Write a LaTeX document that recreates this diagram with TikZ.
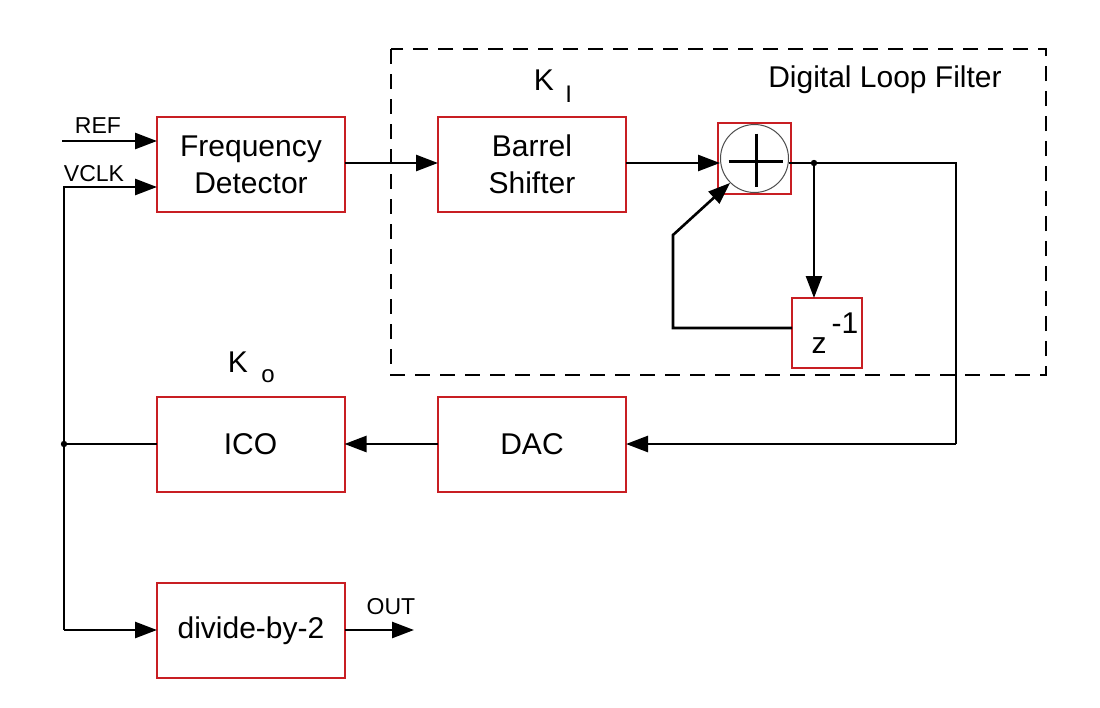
\documentclass[tikz,border=0pt]{standalone}
\usepackage{fontspec}
\setmainfont{Liberation Sans}
\usepackage{tikz}
\usetikzlibrary{arrows.meta,calc,positioning}
\definecolor{boxred}{RGB}{200,30,35}

\begin{document}
\begin{tikzpicture}[x=0.5pt,y=-0.5pt,
    blocco/.style={draw=boxred, line width=1pt, minimum width=94pt, minimum height=47.5pt,
        inner sep=0pt, outer sep=0pt, align=center, font=\fontsize{15}{18.5}\selectfont},
    filo/.style={line width=1.3pt, black},
    freccia/.style={filo, -{Triangle[length=11pt,width=8pt]}},
    etich/.style={font=\fontsize{11.5}{13}\selectfont, inner sep=0pt}]
    \useasboundingbox[fill=white] (0,0) rectangle (1100,708);

    % Blocchi principali
    \node[blocco] (fd) at (251,164.5) {Frequency\\Detector};
    \node[blocco] (bs) at (532,164.5) {Barrel\\Shifter};
    \node[blocco] (dac) at (532,444) {DAC};
    \node[blocco] (ico) at (250.5,444) {ICO};
    \node[blocco] (div) at (251,630.5) {divide-by-2};
    \node[blocco, minimum width=36.5pt, minimum height=35.5pt] (add) at (754.5,158.5) {};
    \node[blocco, minimum width=35pt, minimum height=35pt] (zinv) at (827,333)
        {\hspace*{8pt}z\,\raisebox{1.3ex}{-1}};

    % Sommatore (cerchio con croce)
    \node[circle, draw=black!70, line width=0.5pt, minimum size=34pt, inner sep=0pt] (sum) at (add.center) {};
    \draw[filo] ([xshift=-13pt,yshift=-1.5pt]sum.center) -- ([xshift=14pt,yshift=-1.5pt]sum.center);
    \draw[filo] ([xshift=1pt,yshift=12.5pt]sum.center) -- ([xshift=1pt,yshift=-14pt]sum.center);

    % Filtro di anello digitale (tratteggiato)
    \draw[line width=1.1pt, dash pattern=on 7.5pt off 5pt] (391,49) rectangle (1046,375);
    \node[font=\fontsize{15}{18}\selectfont] (dlf) at (885,80) {Digital Loop Filter};
    \node[font=\fontsize{15}{18}\selectfont] (ki) at (544,80) {K};
    \node[font=\fontsize{12}{14}\selectfont, right=2pt of ki, yshift=-7pt, inner sep=0pt] (kisub) {I};
    \node[font=\fontsize{15}{18}\selectfont] (ko) at (238,362) {K};
    \node[font=\fontsize{12}{14}\selectfont, right=3pt of ko, yshift=-7pt, inner sep=0pt] (kosub) {o};

    % Punti di appoggio
    \coordinate (ref) at (62,141);
    \coordinate (vin) at (64,187);
    \coordinate (jn) at (64,444);
    \coordinate (vbot) at (64,630);
    \coordinate (tap) at (814,163);
    \coordinate (rt) at (956,163);
    \coordinate (fbk) at (673,235);
    \coordinate (outend) at (414,630);

    % Ingressi
    \draw[freccia] (ref) -- (fd.west |- ref);
    \node[etich] (reflbl) at (98,126) {REF};
    \draw[freccia] (vbot) -- (vin) -- (fd.west |- vin);
    \node[etich] (vclklbl) at (94,174) {VCLK};

    % Catena diretta
    \draw[freccia] (fd.east |- 0,163) -- (bs.west |- 0,163);
    \draw[freccia] (bs.east |- 0,163) -- (sum.west |- 0,163);
    \draw[filo] (sum.east |- tap) -- (tap) -- (rt) -- (rt |- dac.east);
    \draw[freccia] (rt |- dac.east) -- (dac.east);
    \draw[freccia] (dac.west) -- (ico.east);
    \draw[filo] (ico.west) -- (jn);
    \fill (jn) circle[radius=1.6pt];
    \fill (tap) circle[radius=1.6pt];

    % Integratore
    \draw[freccia] (tap) -- (tap |- zinv.north);
    \draw[freccia] (zinv.west |- 0,328) -- (fbk |- 0,328) -- (fbk) -- (sum.225);

    % Uscita
    \draw[freccia] (vbot) -- (div.west |- vbot);
    \draw[freccia] (div.east |- vbot) -- (outend);
    \node[etich] (outlbl) at (391,607) {OUT};
\end{tikzpicture}
\end{document}
